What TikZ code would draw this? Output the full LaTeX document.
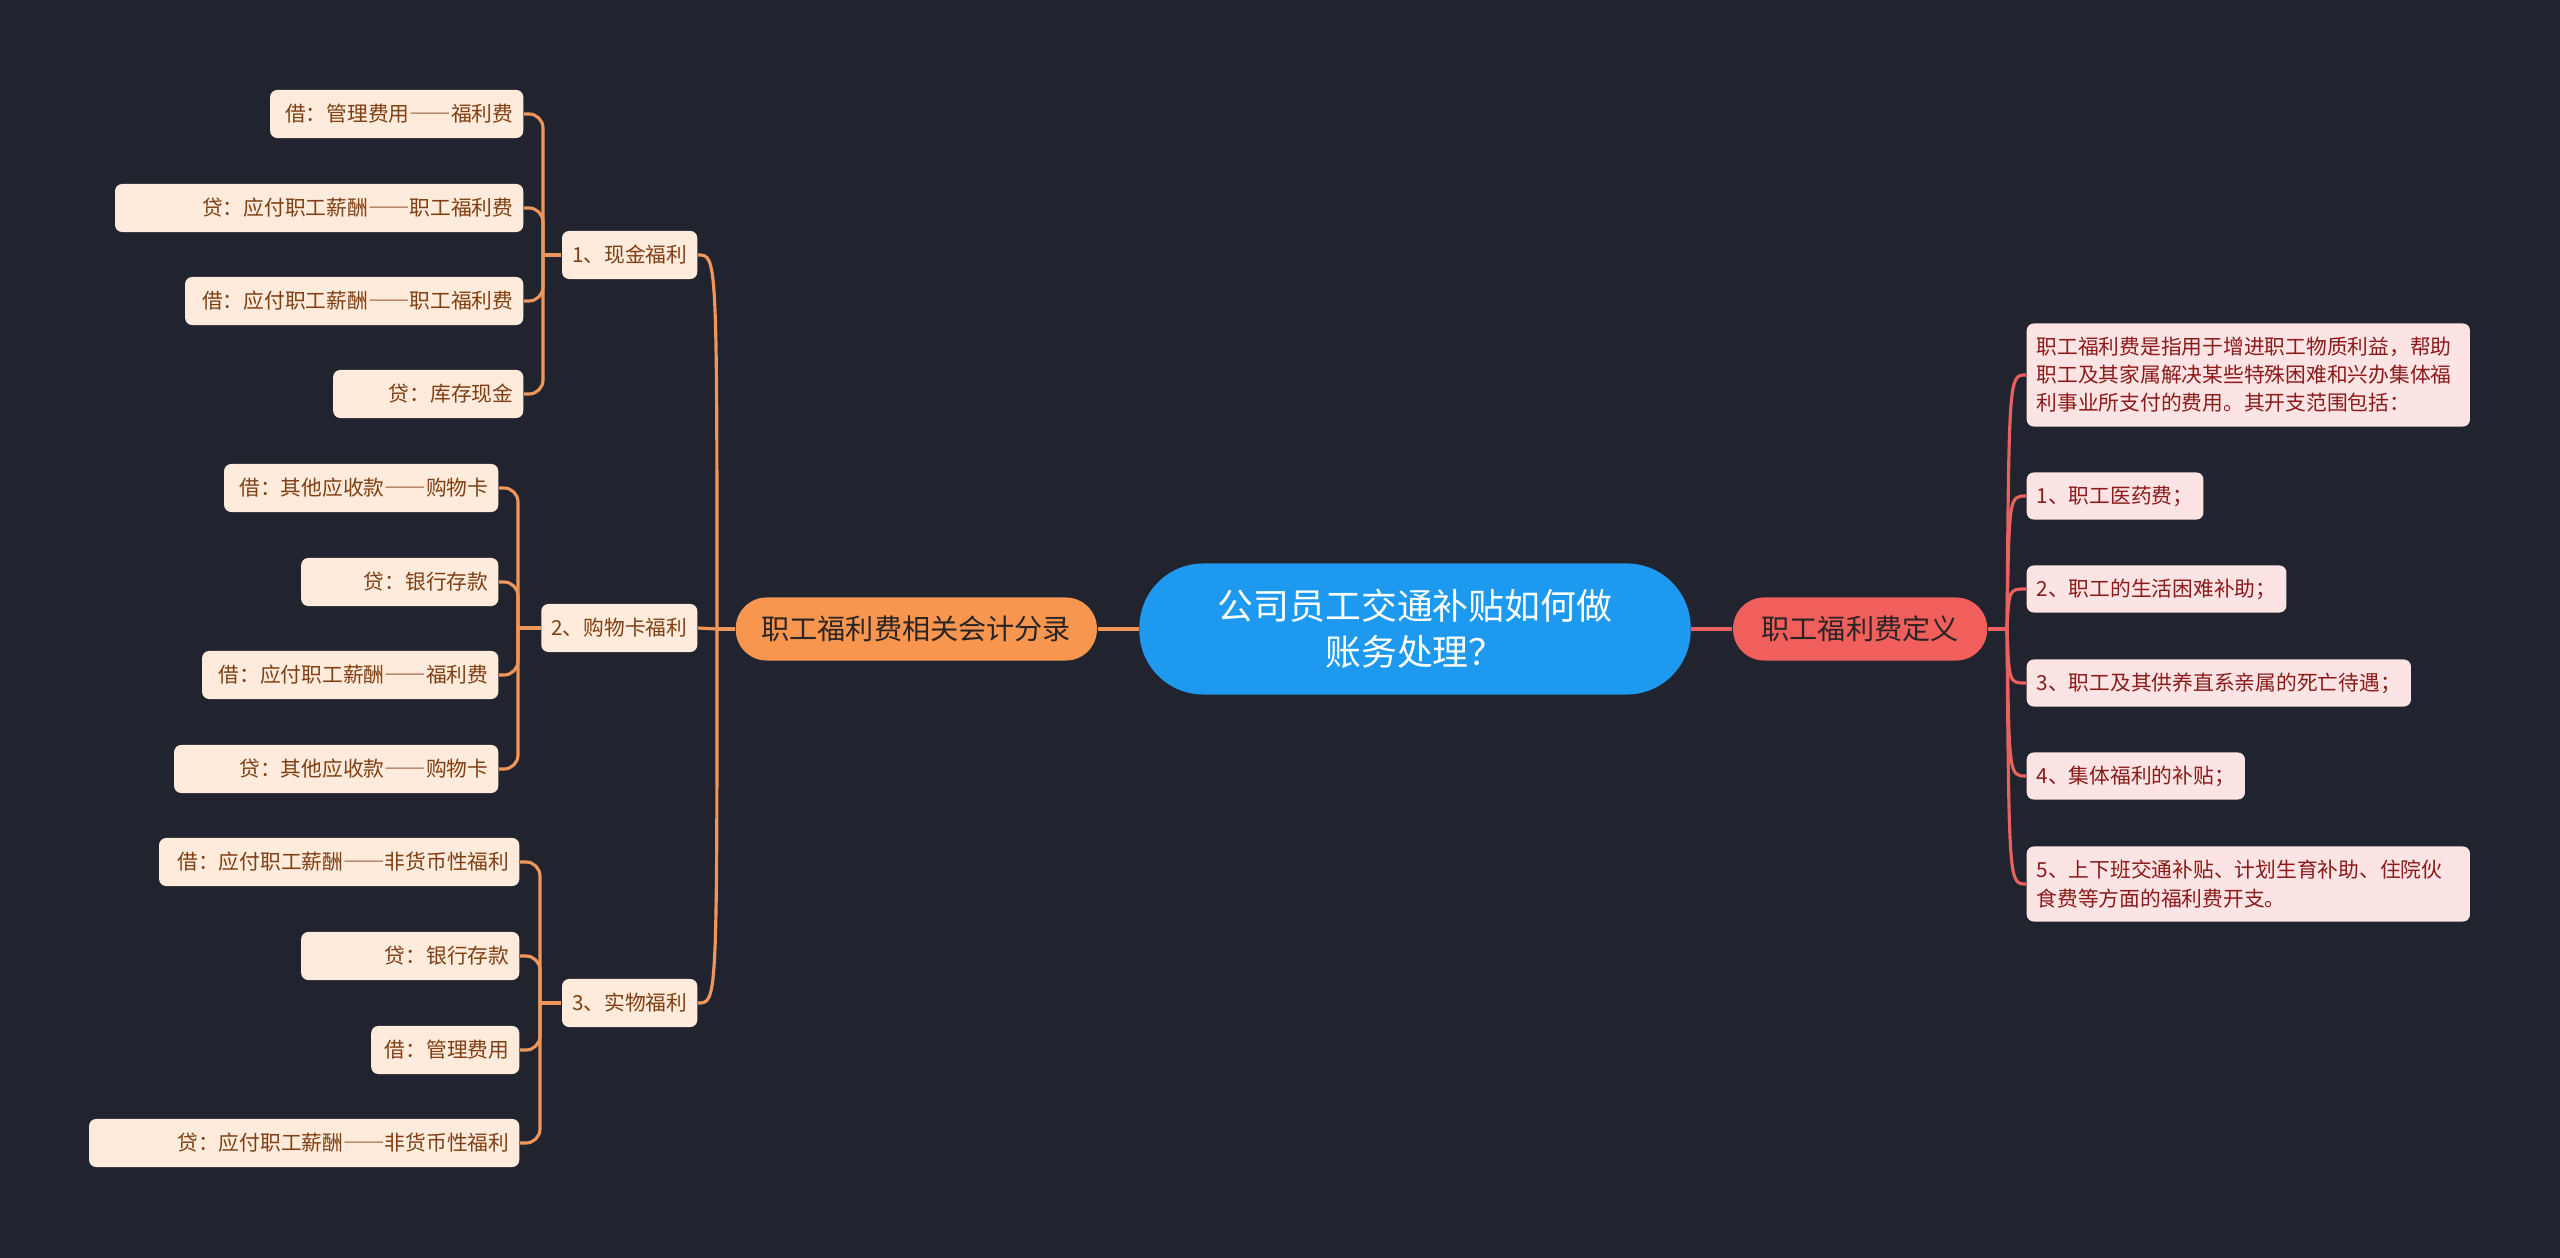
\documentclass[tikz,border=0pt]{standalone}
\usepackage{fontspec}
\setmainfont{Noto Sans CJK SC}
\newfontfamily\fwfont{Noto Sans CJK SC}[RawFeature=+fwid]
\newcommand{\longdash}{{\fwfont ——}}
\usepackage{tikz}
\usetikzlibrary{positioning}
\definecolor{bgdark}{HTML}{21242E}
\definecolor{rootblue}{HTML}{1D9AF0}
\definecolor{accfill}{HTML}{F8964F}
\definecolor{deffillred}{HTML}{F05F5C}
\definecolor{branchtext}{HTML}{2A2424}
\definecolor{accleaf}{HTML}{FEEBDC}
\definecolor{accleaftext}{HTML}{7F3F12}
\definecolor{defleaf}{HTML}{FDE4E4}
\definecolor{defleaftext}{HTML}{8B1A1A}
\definecolor{accline}{HTML}{F0965A}
\definecolor{defline}{HTML}{E8615F}

\begin{document}
\begin{tikzpicture}[
  x=0.01cm, y=-0.01cm,
  root/.style={fill=rootblue, text=white, rounded corners=0.64cm, minimum width=5.51cm, minimum height=1.31cm, align=center, font=\fontsize{10.2}{13}\selectfont},
  branch/.style={rounded corners=0.31cm, minimum height=0.63cm, text=branchtext, font=\fontsize{8}{10}\selectfont},
  accbox/.style={fill=accleaf, text=accleaftext, rounded corners=2pt, minimum height=0.48cm, inner xsep=0.1cm, inner ysep=0.05cm, anchor=east, font=\fontsize{5.9}{8}\selectfont},
  accitem/.style={accbox, align=right},
  defitem/.style={fill=defleaf, text=defleaftext, rounded corners=2pt, minimum height=0.47cm, inner xsep=0.1cm, inner ysep=0.05cm, anchor=west, align=left, font=\fontsize{5.9}{8}\selectfont},
  accpath/.style={draw=accline, line width=0.9pt},
  defpath/.style={draw=defline, line width=0.9pt}
]
\path[use as bounding box, fill=bgdark] (0,0) rectangle (2560,1258);

\node[root] (root) at (1415,629) {公司员工交通补贴如何做\\账务处理？};
\node[branch, fill=accfill, minimum width=3.61cm] (acc) [left=0.41cm of root] {职工福利费相关会计分录};
\node[branch, fill=deffillred, minimum width=2.54cm] (defn) [right=0.41cm of root] {职工福利费定义};

\node[accbox] (c1) at (698,255) {1、现金福利};
\node[accbox] (c2) at (698,628) {2、购物卡福利};
\node[accbox] (c3) at (698,1003) {3、实物福利};

\node[accitem, text width=2.33cm] (g1a) at (524,114) {借：管理费用\longdash 福利费};
\node[accitem, text width=3.88cm] (g1b) at (524,208) {贷：应付职工薪酬\longdash 职工福利费};
\node[accitem, text width=3.18cm] (g1c) at (524,301) {借：应付职工薪酬\longdash 职工福利费};
\node[accitem, text width=1.70cm] (g1d) at (524,394) {贷：库存现金};

\node[accitem, text width=2.54cm] (g2a) at (499,488) {借：其他应收款\longdash 购物卡};
\node[accitem, text width=1.77cm] (g2b) at (499,582) {贷：银行存款};
\node[accitem, text width=2.76cm] (g2c) at (499,675) {借：应付职工薪酬\longdash 福利费};
\node[accitem, text width=3.04cm] (g2d) at (499,769) {贷：其他应收款\longdash 购物卡};

\node[accitem, text width=3.40cm] (g3a) at (520,862) {借：应付职工薪酬\longdash 非货币性福利};
\node[accitem, text width=1.98cm] (g3b) at (520,956) {贷：银行存款};
\node[accitem, text width=1.28cm] (g3c) at (520,1050) {借：管理费用};
\node[accitem, text width=4.10cm] (g3d) at (520,1143) {贷：应付职工薪酬\longdash 非货币性福利};

\node[defitem, text width=4.23cm, minimum height=1.03cm] (d0) at (2026,375) {职工福利费是指用于增进职工物质利益，帮助\\职工及其家属解决某些特殊困难和兴办集体福\\利事业所支付的费用。其开支范围包括：};
\node[defitem] (d1) at (2026,496) {1、职工医药费；};
\node[defitem] (d2) at (2026,589) {2、职工的生活困难补助；};
\node[defitem] (d3) at (2026,683) {3、职工及其供养直系亲属的死亡待遇；};
\node[defitem] (d4) at (2026,776) {4、集体福利的补贴；};
\node[defitem, text width=4.23cm, minimum height=0.75cm] (d5) at (2026,884) {5、上下班交通补贴、计划生育补助、住院伙\\食费等方面的福利费开支。};

\coordinate (jl) at (717,629);
\coordinate (b1) at (543,255);
\coordinate (b2) at (518,628);
\coordinate (b3) at (540,1003);
\coordinate (jr) at (2007,629);

\draw[accpath] (root.west) -- (acc.east);
\draw[defpath] (root.east) -- (defn.west);

\draw[accpath] (acc.west) -- (jl);
\draw[accpath] (jl) .. controls (717,255) and (717,255) .. (c1.east);
\draw[accpath] (jl) -- (c2.east);
\draw[accpath] (jl) .. controls (717,1003) and (717,1003) .. (c3.east);

\draw[accpath] (c1.west) -- (b1);
\draw[accpath, rounded corners=4pt] (g1a.east) -| (b1);
\draw[accpath, rounded corners=4pt] (g1b.east) -| (b1);
\draw[accpath, rounded corners=4pt] (g1c.east) -| (b1);
\draw[accpath, rounded corners=4pt] (g1d.east) -| (b1);

\draw[accpath] (c2.west) -- (b2);
\draw[accpath, rounded corners=4pt] (g2a.east) -| (b2);
\draw[accpath, rounded corners=4pt] (g2b.east) -| (b2);
\draw[accpath, rounded corners=4pt] (g2c.east) -| (b2);
\draw[accpath, rounded corners=4pt] (g2d.east) -| (b2);

\draw[accpath] (c3.west) -- (b3);
\draw[accpath, rounded corners=4pt] (g3a.east) -| (b3);
\draw[accpath, rounded corners=4pt] (g3b.east) -| (b3);
\draw[accpath, rounded corners=4pt] (g3c.east) -| (b3);
\draw[accpath, rounded corners=4pt] (g3d.east) -| (b3);

\draw[defpath] (defn.east) -- (jr);
\draw[defpath] (jr) .. controls (2009,375) and (2009,375) .. (d0.west);
\draw[defpath] (jr) .. controls (2009,496) and (2009,496) .. (d1.west);
\draw[defpath] (jr) .. controls (2009,589) and (2009,589) .. (d2.west);
\draw[defpath] (jr) .. controls (2009,683) and (2009,683) .. (d3.west);
\draw[defpath] (jr) .. controls (2009,776) and (2009,776) .. (d4.west);
\draw[defpath] (jr) .. controls (2009,884) and (2009,884) .. (d5.west);
\end{tikzpicture}
\end{document}
